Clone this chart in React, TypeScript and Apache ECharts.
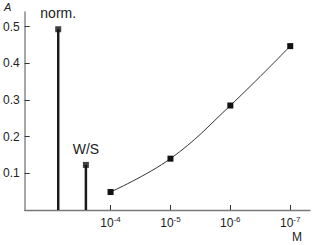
import React, { useEffect, useRef } from "react";
import * as echarts from "echarts";

// x positions are -log10(M); norm. and W/S sit left of the concentration scale
const barLabels = ["norm.", "W/S"];
const barX = [3.126, 3.588];
const barValues = [0.493, 0.123];

const concExp = [4, 5, 6, 7];
const concValues = [0.049, 0.14, 0.285, 0.447];

const yTicks = [0.1, 0.2, 0.3, 0.4, 0.5];
const xTicks = [4, 5, 6, 7];

export default function App() {
  const ref = useRef<HTMLDivElement>(null);
  useEffect(() => {
    if (!ref.current) return;
    const chart = echarts.init(ref.current, null, { renderer: "svg" });
    const font = "Liberation Sans, Arial, sans-serif";
    chart.setOption({
      animation: false,
      textStyle: { fontFamily: font },
      grid: { left: 21, right: 2, top: 12, bottom: 35 },
      xAxis: {
        type: "value",
        min: 2.566,
        max: 7.33,
        splitLine: { show: false },
        axisLine: { show: true, lineStyle: { color: "#7a7a7a", width: 1.3 } },
        axisTick: {
          show: true,
          inside: true,
          length: 5,
          customValues: xTicks,
          lineStyle: { color: "#333", width: 1 },
        },
        axisLabel: {
          customValues: xTicks,
          margin: 5,
          color: "#222",
          formatter: (v: number) => `{b|10}{s|-${v}}`,
          rich: {
            b: { fontSize: 12, fontFamily: font, color: "#222" },
            s: { fontSize: 8, fontFamily: font, color: "#222", padding: [0, 0, 8, 0] },
          },
        },
      },
      yAxis: {
        type: "value",
        min: 0,
        max: 0.54,
        splitLine: { show: false },
        axisLine: { show: true, lineStyle: { color: "#8a8a8a", width: 1.5 } },
        axisTick: {
          show: true,
          inside: true,
          length: 5,
          customValues: yTicks,
          lineStyle: { color: "#333", width: 1 },
        },
        axisLabel: {
          customValues: yTicks,
          margin: 5,
          fontSize: 12,
          color: "#222",
          formatter: (v: number) => v.toFixed(1),
        },
      },
      graphic: [
        { type: "text", left: 4, top: 1, style: { text: "A", font: `italic 11px ${font}`, fill: "#222" } },
        { type: "text", left: 292, top: 231, style: { text: "M", font: `12px ${font}`, fill: "#222" } },
      ],
      series: [
        {
          type: "bar",
          barWidth: 2.5,
          itemStyle: { color: "#1a1a1a" },
          data: barX.map((x, i) => [x, barValues[i]]),
          label: {
            show: true,
            position: "top",
            distance: 9,
            fontSize: 14,
            color: "#222",
            fontFamily: font,
            formatter: (p: any) => barLabels[p.dataIndex],
          },
        },
        {
          type: "scatter",
          symbol: "rect",
          symbolSize: 6,
          itemStyle: { color: "#111" },
          data: barX.map((x, i) => [x, barValues[i]]),
          z: 5,
        },
        {
          type: "line",
          smooth: 0.4,
          symbol: "rect",
          symbolSize: 6,
          showSymbol: true,
          itemStyle: { color: "#111" },
          lineStyle: { color: "#333", width: 1 },
          data: concExp.map((x, i) => [x, concValues[i]]),
          z: 4,
        },
      ],
    });
    return () => chart.dispose();
  }, []);
  return <div ref={ref} style={{ width: 312, height: 245, position: "absolute", left: 0, top: 0 }} />;
}
